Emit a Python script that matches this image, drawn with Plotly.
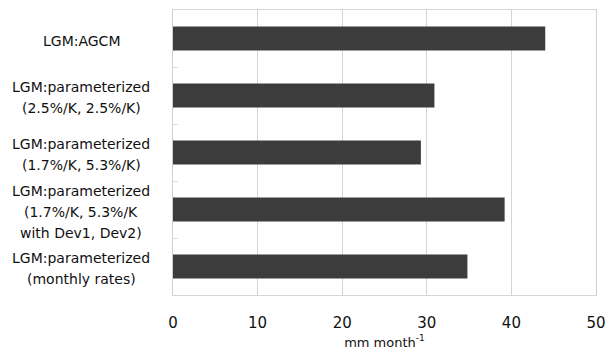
import plotly.graph_objects as go

# Precipitation totals per experiment (mm month^-1)
categories = ["LGM:AGCM", "param 2.5/2.5", "param 1.7/5.3", "param dev", "param monthly"]
label_lines = [
    ["LGM:AGCM"],
    ["LGM:parameterized", "(2.5%/K, 2.5%/K)"],
    ["LGM:parameterized", "(1.7%/K, 5.3%/K)"],
    ["LGM:parameterized", "(1.7%/K, 5.3%/K", "with Dev1, Dev2)"],
    ["LGM:parameterized", "(monthly rates)"],
]
values = [44.0, 30.9, 29.3, 39.2, 34.8]
x_ticks = [0, 10, 20, 30, 40, 50]

FONT = "DejaVu Sans"
LINE_H = 21

fig = go.Figure(
    go.Bar(
        x=values,
        y=categories,
        orientation="h",
        marker=dict(color="#3c3c3c", line=dict(width=0)),
        width=0.42,
    )
)

# Category labels: centred multi-line blocks to the left of the axis
annotations = []
for cat, lines in zip(categories, label_lines):
    n = len(lines)
    for i, line in enumerate(lines):
        annotations.append(
            dict(
                x=0, xref="paper", y=cat, yref="y",
                text=line, showarrow=False,
                xanchor="center", yanchor="middle",
                xshift=-92,
                yshift=((n - 1) / 2 - i) * LINE_H - 2,
                font=dict(family=FONT, size=14, color="#111111"),
            )
        )

fig.update_layout(
    width=615,
    height=358,
    margin=dict(l=173, r=12, t=9, b=63),
    paper_bgcolor="white",
    plot_bgcolor="white",
    showlegend=False,
    annotations=annotations,
    font=dict(family=FONT, color="#111111"),
    xaxis=dict(
        range=[0, 50],
        tickvals=x_ticks,
        ticktext=[str(v) for v in x_ticks],
        tickfont=dict(family=FONT, size=15, color="#111111"),
        showgrid=True,
        gridcolor="#d4d4d4",
        gridwidth=1,
        showline=True,
        linecolor="#d6d6d6",
        mirror=True,
        zeroline=False,
        ticks="",
        ticklabelstandoff=14,
        title=dict(
            text="mm month<sup>-1</sup>",
            font=dict(family=FONT, size=13, color="#111111"),
            standoff=6,
        ),
        fixedrange=True,
    ),
    yaxis=dict(
        categoryorder="array",
        categoryarray=categories[::-1],
        showticklabels=False,
        showgrid=False,
        showline=True,
        linecolor="#cfcfcf",
        mirror=True,
        ticks="inside",
        tickson="boundaries",
        ticklen=5,
        tickcolor="#dcdcdc",
        zeroline=False,
        fixedrange=True,
    ),
)

fig.write_html("out.html")
